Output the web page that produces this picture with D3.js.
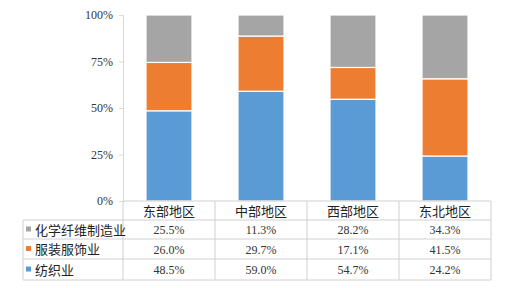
<!DOCTYPE html>
<html><head><meta charset="utf-8">
<script src="https://cdn.jsdelivr.net/npm/d3@7"></script>
<style>body{margin:0;background:#fff}svg{display:block}</style>
</head><body>
<svg id="c" width="507" height="288"></svg>
<script>
const categories = ["东部地区","中部地区","西部地区","东北地区"];
const seriesNames = ["化学纤维制造业","服装服饰业","纺织业"];
const chemFiber = [25.5, 11.3, 28.2, 34.3];
const apparel = [26.0, 29.7, 17.1, 41.5];
const textile = [48.5, 59.0, 54.7, 24.2];
const yTicks = [0, 25, 50, 75, 100];
const colors = {"化学纤维制造业":"#A5A5A5","服装服饰业":"#ED7D31","纺织业":"#5B9BD5"};

(function(){
const svg = d3.select("#c");
const serif = "'Liberation Serif','Times New Roman',serif";
const cjk = "'Noto Sans CJK SC',sans-serif";
const mLeft = 123, mRight = 491, mTop = 15, mBottom = 201;
const x = d3.scaleBand().domain(categories).range([mLeft, mRight]).paddingInner(0.5).paddingOuter(0.25);
const xb = d3.scaleBand().domain(categories).range([mLeft, mRight]);
const y = d3.scaleLinear().domain([0, 100]).range([mBottom, mTop]);

const rows = categories.map((c,i)=>({cat:c, "纺织业":textile[i], "服装服饰业":apparel[i], "化学纤维制造业":chemFiber[i]}));
const stack = d3.stack().keys(["纺织业","服装服饰业","化学纤维制造业"])(rows);

svg.append("g").selectAll("g").data(stack).join("g")
  .attr("fill", d=>colors[d.key])
  .selectAll("rect").data(d=>d).join("rect")
  .attr("x", d=>x(d.data.cat)).attr("width", x.bandwidth())
  .attr("y", d=>y(d[1])).attr("height", d=>y(d[0])-y(d[1]))
  .attr("stroke","#fff").attr("stroke-width",1.2);

const ya = svg.append("g").attr("transform",`translate(${mLeft},0)`)
  .call(d3.axisLeft(y).tickValues(yTicks).tickFormat(d=>d+"%").tickSize(4).tickPadding(6));
ya.select(".domain").attr("stroke","#d9d9d9");
ya.selectAll(".tick line").attr("stroke","#d9d9d9");
ya.selectAll("text").attr("font-family",serif).attr("font-size",12).attr("fill","#333");

const tbl = svg.append("g");
const lineC = "#d0d0d0";
const rowY = [201, 220, 239, 259, 280];
const tLeft = 23;
tbl.append("line").attr("x1",mLeft).attr("x2",mRight).attr("y1",rowY[0]).attr("y2",rowY[0]).attr("stroke",lineC);
for (let k=1;k<rowY.length;k++) tbl.append("line").attr("x1",tLeft).attr("x2",mRight).attr("y1",rowY[k]).attr("y2",rowY[k]).attr("stroke",lineC);
tbl.append("line").attr("x1",tLeft).attr("x2",tLeft).attr("y1",rowY[1]).attr("y2",rowY[4]).attr("stroke",lineC);
[mLeft, ...categories.map(c=>xb(c)+xb.bandwidth())].forEach(v=>{
  tbl.append("line").attr("x1",v).attr("x2",v).attr("y1",rowY[0]).attr("y2",rowY[4]).attr("stroke",lineC);
});
tbl.selectAll("text.h").data(categories).join("text").attr("class","h")
  .attr("x",c=>xb(c)+xb.bandwidth()/2).attr("y",(rowY[0]+rowY[1])/2+5)
  .attr("text-anchor","middle").attr("font-family",cjk).attr("font-size",13).attr("fill","#222").text(c=>c);
const seriesVals = [chemFiber, apparel, textile];
seriesNames.forEach((s,r)=>{
  const cy = (rowY[r+1]+rowY[r+2])/2;
  tbl.append("rect").attr("x",26).attr("y",cy-3).attr("width",5).attr("height",5).attr("fill",colors[s]);
  tbl.append("text").attr("x",35).attr("y",cy+5).attr("font-family",cjk).attr("font-size",13).attr("fill","#222").text(s);
  categories.forEach((c,i)=>{
    tbl.append("text").attr("x",xb(c)+xb.bandwidth()/2).attr("y",cy+4.5).attr("text-anchor","middle")
      .attr("font-family",serif).attr("font-size",12).attr("fill","#333").text(seriesVals[r][i].toFixed(1)+"%");
  });
});
})();
</script>
</body></html>
